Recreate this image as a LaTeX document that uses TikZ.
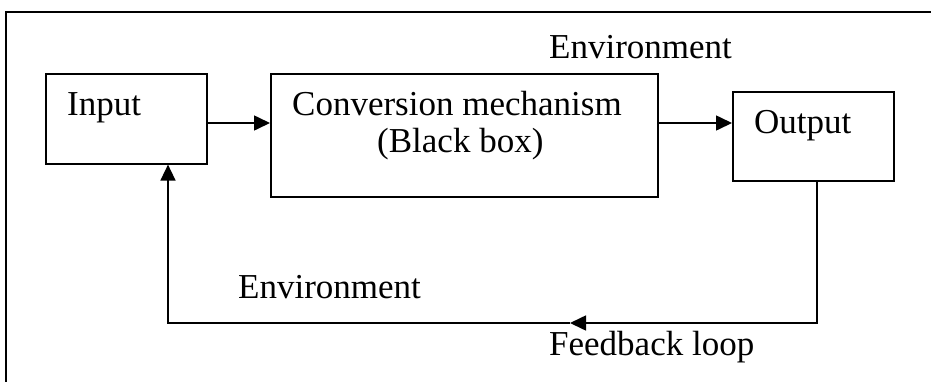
\documentclass[tikz,border=0pt]{standalone}
\usepackage{fontspec}
\setmainfont{Liberation Serif}
\usetikzlibrary{arrows.meta}
\begin{document}
\begin{tikzpicture}[x=1pt,y=-1pt,
  every node/.style={font=\fontsize{35}{40}\selectfont, inner sep=0pt},
  boxx/.style={draw, line width=1.6pt, anchor=north west},
  ln/.style={line width=1.6pt},
  arr/.style={ln, -{Triangle[length=16pt,width=15pt]}},
  lbl/.style={anchor=base west}]
\useasboundingbox (0,0) rectangle (931,381);
\begin{scope}
\clip (0,0) rectangle (931,381);
\draw[line width=1.2pt] (6,400) -- (6,12) -- (950,12);
\end{scope}
% boxes
\node[boxx, minimum width=161pt, minimum height=90pt] (input) at (45,73) {};
\node[boxx, minimum width=387pt, minimum height=123pt] (conv) at (270,73) {};
\node[boxx, minimum width=161pt, minimum height=89pt] (output) at (732,91) {};
% texts
\node[lbl] (tin) at (67,115) {Input};
\node[lbl] (tc1) at (292,115) {Conversion mechanism};
\node[lbl] (tc2) at (377,152) {(Black box)};
\node[lbl] (tout) at (754,133) {Output};
\node[lbl] (env1) at (549,58) {Environment};
\node[lbl] (env2) at (238,298) {Environment};
\node[lbl] (fb) at (549,355) {Feedback loop};
% connectors
\coordinate (fbr) at (817,323);
\coordinate (fbm) at (570,323);
\coordinate (fbl) at (168,323);
\draw[arr] (input.east |- 0,123) -- (conv.west |- 0,123);
\draw[arr] (conv.east |- 0,123) -- (output.west |- 0,123);
\draw[arr] (fbr |- output.south) -- (fbr) -- (fbm);
\draw[arr] (fbm) -- (fbl) -- (fbl |- input.south);
\end{tikzpicture}
\end{document}
